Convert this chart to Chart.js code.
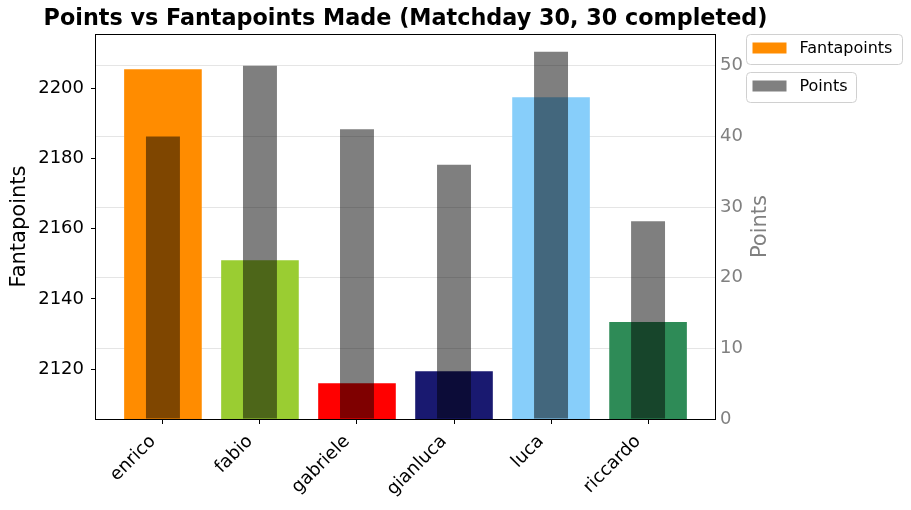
<!DOCTYPE html>
<html>
<head>
<meta charset="utf-8">
<script src="https://cdn.jsdelivr.net/npm/chart.js@4/dist/chart.umd.min.js"></script>
<style>
  html, body { margin: 0; padding: 0; background: #fff; }
  #wrap { width: 911px; height: 510px; position: relative; }
</style>
</head>
<body>
<div id="wrap"><canvas id="myChart" width="911" height="510"></canvas></div>
<script>
// data
const players = ["enrico", "fabio", "gabriele", "gianluca", "luca", "riccardo"];
const fantapoints = [2205.4, 2151.0, 2116.0, 2119.4, 2197.4, 2133.4];
const points = [40, 50, 41, 36, 52, 28];
const barColors = ["#FF8C00", "#9ACD32", "#FF0000", "#191970", "#87CEFA", "#2E8B57"];
const titleText = "Points vs Fantapoints Made (Matchday 30, 30 completed)";

const font = "'DejaVu Sans', sans-serif";

// title, frame, right label and the two legend boxes
const extras = {
    id: 'extras',
    afterDraw(chart) {
        const ctx = chart.ctx;
        const a = chart.chartArea;
        ctx.save();

        // frame
        ctx.strokeStyle = '#000';
        ctx.lineWidth = 1;
        ctx.strokeRect(Math.round(a.left) - 0.5, Math.round(a.top) + 0.5,
            Math.round(a.right - a.left) + 1, Math.round(a.bottom - a.top));

        // title
        ctx.fillStyle = '#000';
        ctx.font = "bold 22.3px " + font;
        ctx.textAlign = 'center';
        ctx.textBaseline = 'middle';
        ctx.fillText(titleText, (a.left + a.right) / 2, 19);

        // right axis label
        ctx.save();
        ctx.translate(761, (a.top + a.bottom) / 2);
        ctx.rotate(-Math.PI / 2);
        ctx.fillStyle = '#808080';
        ctx.font = "21px " + font;
        ctx.fillText("Points", 0, 0);
        ctx.restore();

        // legends
        function box(x, y, w, h, color, label) {
            const r = 4;
            ctx.beginPath();
            ctx.moveTo(x + r, y);
            ctx.arcTo(x + w, y, x + w, y + h, r);
            ctx.arcTo(x + w, y + h, x, y + h, r);
            ctx.arcTo(x, y + h, x, y, r);
            ctx.arcTo(x, y, x + w, y, r);
            ctx.closePath();
            ctx.fillStyle = 'rgba(255,255,255,0.8)';
            ctx.fill();
            ctx.strokeStyle = '#d0d0d0';
            ctx.lineWidth = 1;
            ctx.stroke();
            ctx.fillStyle = color;
            ctx.fillRect(x + 6, y + 8, 34, 11);
            ctx.fillStyle = '#000';
            ctx.font = "16px " + font;
            ctx.textAlign = 'left';
            ctx.textBaseline = 'middle';
            ctx.fillText(label, x + 53, y + 14);
        }
        box(746.5, 34.5, 156, 30, barColors[0], "Fantapoints");
        box(746.5, 72.5, 110, 30, "#808080", "Points");

        ctx.restore();
    }
};

new Chart("myChart", {
    type: 'bar',
    data: {
        datasets: [{
            label: "Fantapoints",
            data: fantapoints.map((v, i) => ({ x: i, y: v })),
            backgroundColor: barColors,
            yAxisID: 'y',
            grouped: false,
            categoryPercentage: 1,
            barPercentage: 0.8,
            order: 1
        }, {
            label: "Points",
            data: points.map((v, i) => ({ x: i, y: v })),
            backgroundColor: 'rgba(0,0,0,0.5)',
            yAxisID: 'y2',
            grouped: false,
            categoryPercentage: 1,
            barPercentage: 0.35,
            order: 0
        }]
    },
    options: {
        responsive: false,
        animation: false,
        layout: { padding: { top: 34, left: 0, right: 0, bottom: 0 } },
        plugins: {
            legend: { display: false },
            title: { display: false },
            tooltip: { enabled: false }
        },
        scales: {
            x: {
                type: 'linear',
                min: -0.69,
                max: 5.69,
                offset: false,
                border: { display: false },
                grid: { offset: false, drawOnChartArea: false, drawTicks: true, tickLength: 5, tickColor: '#000' },
                ticks: {
                    stepSize: 1,
                    includeBounds: false,
                    autoSkip: false,
                    minRotation: 45,
                    maxRotation: 45,
                    padding: 7,
                    labelOffset: -10,
                    color: '#000',
                    font: { family: font, size: 18 },
                    callback: (v) => players[v] ?? ''
                },
                afterFit: (s) => { s.height = 91; }
            },
            y: {
                position: 'left',
                min: 2105.8,
                max: 2215.4,
                border: { display: false },
                grid: { drawOnChartArea: false, drawTicks: true, tickLength: 5, tickColor: '#000' },
                ticks: {
                    stepSize: 20,
                    includeBounds: false,
                    padding: 7,
                    color: '#000',
                    font: { family: font, size: 18 },
                    callback: (v) => String(v)
                },
                title: {
                    display: true,
                    text: "Fantapoints",
                    color: '#000',
                    font: { family: font, size: 21 },
                    padding: { top: 7, bottom: 0 }
                },
                afterFit: (s) => { s.width = 96; }
            },
            y2: {
                position: 'right',
                min: 0,
                max: 54.5,
                border: { display: false },
                grid: { drawOnChartArea: true, drawTicks: false, color: 'rgba(0,0,0,0.1)' },
                ticks: {
                    stepSize: 10,
                    includeBounds: false,
                    padding: 5,
                    color: '#808080',
                    font: { family: font, size: 18 },
                    callback: (v) => String(v)
                },
                afterFit: (s) => { s.width = 196; }
            }
        }
    },
    plugins: [extras]
});
</script>
</body>
</html>
